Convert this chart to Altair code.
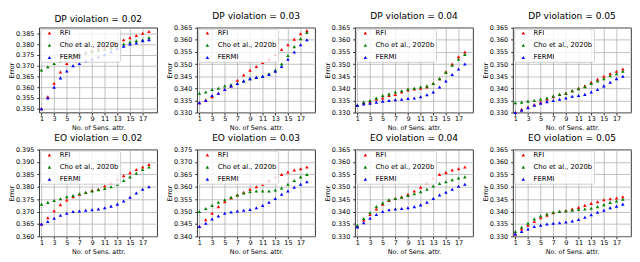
import altair as alt
import pandas as pd

x_vals = list(range(1, 19))
methods = ["RFI", "Cho et al., 2020b", "FERMI"]
colors = ["#ff0000", "#008000", "#0000ff"]
x_ticks = [1, 3, 5, 7, 9, 11, 13, 15, 17]

titles = ["DP violation = 0.02", "DP violation = 0.03", "DP violation = 0.04", "DP violation = 0.05",
          "EO violation = 0.02", "EO violation = 0.03", "EO violation = 0.04", "EO violation = 0.05"]

# DP 0.02
dp002_rfi = [0.350, 0.3555, 0.3618, 0.367, 0.371, 0.3735, 0.375, 0.376, 0.377, 0.378, 0.3785, 0.379, 0.3805, 0.382, 0.383, 0.384, 0.385, 0.3858]
dp002_cho = [0.368, 0.3695, 0.371, 0.372, 0.3735, 0.375, 0.375, 0.376, 0.3765, 0.377, 0.3775, 0.378, 0.379, 0.380, 0.381, 0.3815, 0.382, 0.383]
dp002_fermi = [0.350, 0.355, 0.360, 0.3643, 0.3675, 0.370, 0.371, 0.372, 0.373, 0.374, 0.375, 0.3765, 0.378, 0.379, 0.380, 0.3805, 0.3815, 0.382]
# DP 0.03
dp003_rfi = [0.334, 0.3352, 0.3365, 0.338, 0.3395, 0.341, 0.3433, 0.3455, 0.3475, 0.349, 0.3507, 0.352, 0.354, 0.356, 0.358, 0.3603, 0.3625, 0.3638]
dp003_cho = [0.338, 0.3385, 0.3395, 0.340, 0.341, 0.3415, 0.342, 0.343, 0.344, 0.3445, 0.345, 0.346, 0.3475, 0.350, 0.3535, 0.3572, 0.3605, 0.363]
dp003_fermi = [0.334, 0.335, 0.337, 0.338, 0.3395, 0.341, 0.342, 0.343, 0.344, 0.3445, 0.345, 0.3457, 0.347, 0.349, 0.352, 0.355, 0.358, 0.360]
# DP 0.04
dp004_rfi = [0.333, 0.334, 0.3345, 0.3355, 0.336, 0.337, 0.3375, 0.3385, 0.3393, 0.3397, 0.340, 0.3405, 0.342, 0.344, 0.3468, 0.350, 0.353, 0.355]
dp004_cho = [0.333, 0.3343, 0.335, 0.336, 0.337, 0.3377, 0.3385, 0.339, 0.3397, 0.340, 0.3405, 0.341, 0.342, 0.344, 0.3465, 0.3495, 0.352, 0.354]
dp004_fermi = [0.333, 0.3335, 0.3338, 0.3343, 0.3347, 0.335, 0.3353, 0.3355, 0.3358, 0.336, 0.3365, 0.3373, 0.3385, 0.3405, 0.343, 0.3457, 0.348, 0.350]
# DP 0.05
dp005_rfi = [0.330, 0.3313, 0.3323, 0.3333, 0.3343, 0.3355, 0.3365, 0.3375, 0.338, 0.339, 0.340, 0.341, 0.3425, 0.3437, 0.345, 0.346, 0.347, 0.348]
dp005_cho = [0.334, 0.3343, 0.3347, 0.335, 0.3355, 0.336, 0.3368, 0.3375, 0.338, 0.339, 0.3398, 0.3407, 0.342, 0.343, 0.344, 0.3452, 0.346, 0.347]
dp005_fermi = [0.330, 0.331, 0.332, 0.333, 0.3338, 0.3345, 0.335, 0.3355, 0.336, 0.3367, 0.337, 0.3375, 0.3385, 0.3395, 0.341, 0.3425, 0.344, 0.345]
# EO 0.02
eo002_rfi = [0.365, 0.3675, 0.3703, 0.3728, 0.3747, 0.376, 0.377, 0.3777, 0.3785, 0.379, 0.3803, 0.3815, 0.383, 0.3845, 0.3857, 0.387, 0.388, 0.389]
eo002_cho = [0.373, 0.3737, 0.3745, 0.3752, 0.376, 0.3765, 0.3772, 0.3777, 0.3783, 0.3788, 0.3793, 0.380, 0.381, 0.3825, 0.384, 0.3855, 0.387, 0.388]
eo002_fermi = [0.365, 0.366, 0.3673, 0.3685, 0.3693, 0.370, 0.3702, 0.3705, 0.3707, 0.371, 0.3715, 0.3722, 0.373, 0.3743, 0.3758, 0.3775, 0.379, 0.380]
# EO 0.03
eo003_rfi = [0.344, 0.3467, 0.3493, 0.352, 0.354, 0.3555, 0.3567, 0.3578, 0.359, 0.360, 0.361, 0.3625, 0.364, 0.365, 0.366, 0.3668, 0.3673, 0.368]
eo003_cho = [0.350, 0.3512, 0.3525, 0.3538, 0.3548, 0.3558, 0.3567, 0.3575, 0.358, 0.3583, 0.3583, 0.3583, 0.3587, 0.3595, 0.361, 0.3625, 0.364, 0.365]
eo003_fermi = [0.344, 0.3453, 0.347, 0.3482, 0.3493, 0.3498, 0.3502, 0.3505, 0.3508, 0.3515, 0.3525, 0.3538, 0.3553, 0.357, 0.3583, 0.3598, 0.361, 0.362]
# EO 0.04
eo004_rfi = [0.334, 0.3365, 0.3388, 0.341, 0.343, 0.3445, 0.3453, 0.346, 0.347, 0.3483, 0.3498, 0.3515, 0.3535, 0.355, 0.3558, 0.3568, 0.3573, 0.358]
eo004_cho = [0.3345, 0.3372, 0.3395, 0.342, 0.3435, 0.3448, 0.3453, 0.3458, 0.3465, 0.3472, 0.348, 0.349, 0.3503, 0.3513, 0.352, 0.3528, 0.3535, 0.354]
eo004_fermi = [0.3338, 0.3355, 0.3373, 0.3388, 0.340, 0.3407, 0.341, 0.3412, 0.3415, 0.342, 0.3427, 0.3438, 0.3453, 0.3467, 0.3478, 0.349, 0.3502, 0.351]
# EO 0.05
eo005_rfi = [0.331, 0.333, 0.3345, 0.336, 0.3375, 0.3385, 0.3395, 0.340, 0.3403, 0.341, 0.3417, 0.3425, 0.3433, 0.344, 0.3448, 0.3452, 0.3455, 0.346]
eo005_cho = [0.332, 0.3337, 0.3353, 0.337, 0.3382, 0.339, 0.3397, 0.340, 0.3403, 0.3405, 0.3408, 0.341, 0.3413, 0.342, 0.3428, 0.3437, 0.3443, 0.345]
eo005_fermi = [0.331, 0.332, 0.333, 0.334, 0.3345, 0.335, 0.3353, 0.3355, 0.3358, 0.3362, 0.3368, 0.3377, 0.3387, 0.3397, 0.3405, 0.3415, 0.3422, 0.343]

y_domains = [[0.3482, 0.3876], [0.330, 0.365], [0.330, 0.365], [0.330, 0.365],
             [0.360, 0.395], [0.340, 0.375], [0.330, 0.365], [0.330, 0.365]]
y_ticks = [[0.350, 0.355, 0.360, 0.365, 0.370, 0.375, 0.380, 0.385],
           [0.330, 0.335, 0.340, 0.345, 0.350, 0.355, 0.360, 0.365],
           [0.330, 0.335, 0.340, 0.345, 0.350, 0.355, 0.360, 0.365],
           [0.330, 0.335, 0.340, 0.345, 0.350, 0.355, 0.360, 0.365],
           [0.360, 0.365, 0.370, 0.375, 0.380, 0.385, 0.390, 0.395],
           [0.340, 0.345, 0.350, 0.355, 0.360, 0.365, 0.370, 0.375],
           [0.330, 0.335, 0.340, 0.345, 0.350, 0.355, 0.360, 0.365],
           [0.330, 0.335, 0.340, 0.345, 0.350, 0.355, 0.360, 0.365]]

series = [
    (dp002_rfi, dp002_cho, dp002_fermi), (dp003_rfi, dp003_cho, dp003_fermi),
    (dp004_rfi, dp004_cho, dp004_fermi), (dp005_rfi, dp005_cho, dp005_fermi),
    (eo002_rfi, eo002_cho, eo002_fermi), (eo003_rfi, eo003_cho, eo003_fermi),
    (eo004_rfi, eo004_cho, eo004_fermi), (eo005_rfi, eo005_cho, eo005_fermi),
]

FONT = "DejaVu Sans"


def panel(i, h):
    rows = []
    for m, vals in zip(methods, series[i]):
        for x, v in zip(x_vals, vals):
            rows.append({"n": x, "err": v, "method": m})
    df = pd.DataFrame(rows)
    return alt.Chart(df).mark_point(shape="triangle-up", filled=True, size=13, opacity=1).encode(
        x=alt.X("n:Q", scale=alt.Scale(domain=[0.64, 19.3], nice=False, zero=False),
                axis=alt.Axis(values=x_ticks, title="No. of Sens. attr.")),
        y=alt.Y("err:Q", scale=alt.Scale(domain=y_domains[i], nice=False, zero=False),
                axis=alt.Axis(values=y_ticks[i], format=".3f", title="Error")),
        color=alt.Color("method:N", scale=alt.Scale(domain=methods, range=colors),
                        legend=alt.Legend(title=None, orient="top-left")),
    ).properties(width=121, height=h, title=alt.TitleParams(titles[i]))


row1 = alt.hconcat(*[panel(i, 87) for i in range(4)], spacing=8).resolve_scale(color="independent")
row2 = alt.hconcat(*[panel(i, 89) for i in range(4, 8)], spacing=8).resolve_scale(color="independent")

chart = alt.vconcat(row1, row2, spacing=1).resolve_scale(color="independent").properties(
    padding=0
).configure(
    font=FONT
).configure_view(
    stroke="#000000", strokeWidth=0.8
).configure_axis(
    domain=False, grid=True, gridColor="#b0b0b0", gridWidth=0.8,
    tickColor="#000000", tickSize=2.5, tickWidth=0.8,
    labelFont=FONT, labelFontSize=6.6, labelColor="#000000",
    titleFont=FONT, titleFontSize=6.6, titleFontWeight="normal", titleColor="#000000",
    labelOverlap=False, labelFlush=False
).configure_axisX(
    labelPadding=1, titlePadding=2
).configure_axisY(
    labelPadding=3, titlePadding=1
).configure_title(
    font=FONT, fontSize=9.3, fontWeight="normal", color="#000000", offset=0
).configure_legend(
    padding=1, offset=1, symbolOffset=5, labelOffset=7, rowPadding=4.5,
    fillColor="rgba(255,255,255,0.8)", strokeColor="#d0d0d0", cornerRadius=2,
    symbolType="triangle-up", symbolSize=13, labelFont=FONT, labelFontSize=7,
    labelColor="#000000", symbolStrokeWidth=0
)

chart.save("out.html", embed_options={"renderer": "svg", "actions": False})
